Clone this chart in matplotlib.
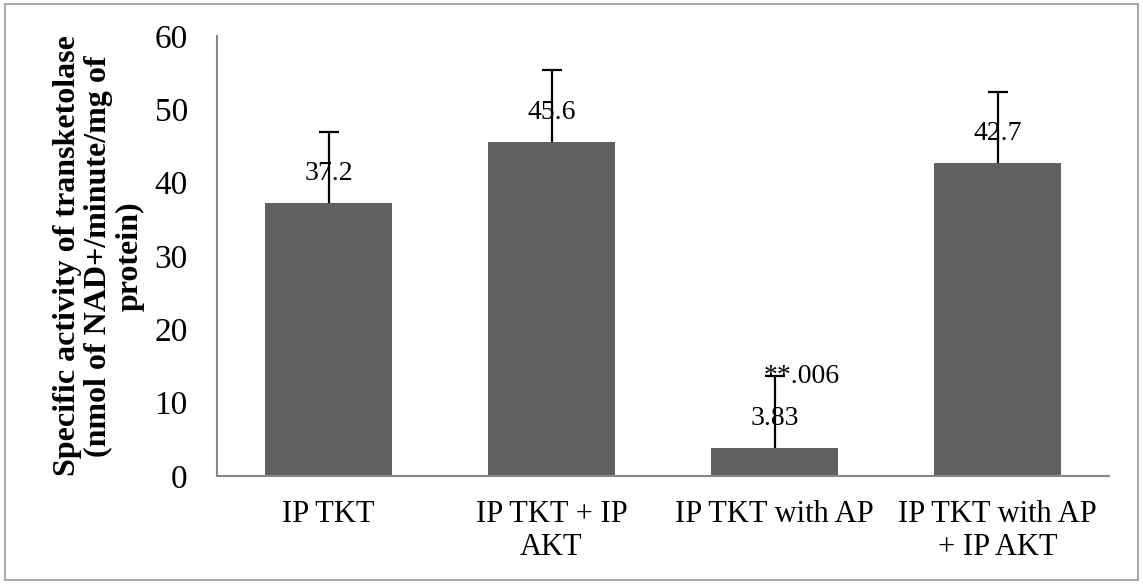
import numpy as np
import matplotlib.pyplot as plt
from matplotlib.patches import Rectangle

plt.rcParams['font.family'] = ['Liberation Serif', 'DejaVu Serif']

# Transketolase activity per condition
groups = ["IP TKT", "IP TKT + IP\nAKT", "IP TKT with AP", "IP TKT with AP\n+ IP AKT"]
activity = [37.2, 45.6, 3.83, 42.7]
errors = [9.7, 9.8, 9.8, 9.7]
value_labels = ["37.2", "45.6", "3.83", "42.7"]
pvalue_note = "**.006"

fig = plt.figure(figsize=(11.43, 5.84), dpi=100)
ax = fig.add_axes([217 / 1143, 1 - 476 / 584, 892 / 1143, 440 / 584])

x = np.arange(len(groups))
ax.bar(x, activity, width=0.57, color="#606060")
eb = ax.errorbar(x, activity, yerr=[np.zeros(len(errors)), errors], fmt="none",
                 ecolor="black", elinewidth=1.6, capsize=7, capthick=1.6)
# only the upper caps are shown
eb[1][0].set_visible(False)

for xi, val, lab in zip(x, activity, value_labels):
    ax.text(xi, val + 2.3, lab, ha="center", va="bottom", fontsize=20)
ax.text(x[2] + 0.12, activity[2] + errors[2] - 1.7, pvalue_note,
        ha="center", va="bottom", fontsize=20)

ax.set_xlim(-0.5, len(groups) - 0.5)
ax.set_ylim(0, 60)
ax.set_yticks(range(0, 61, 10))
ax.set_xticks(x)
ax.set_xticklabels(groups, fontsize=22, linespacing=1.2)
ax.tick_params(axis="y", labelsize=24, length=0, pad=21)
ax.tick_params(axis="x", length=0, pad=17)
for side in ["top", "right"]:
    ax.spines[side].set_visible(False)
for side in ["left", "bottom"]:
    ax.spines[side].set_color("#888888")
    ax.spines[side].set_linewidth(1.5)

ax.set_ylabel("Specific activity of transketolase\n(nmol of NAD+/minute/mg of\nprotein)",
              fontsize=23, fontweight="bold", linespacing=1.1, labelpad=7)

# thin frame round the whole figure
fig.patches.append(Rectangle((5 / 1143, 4 / 584), 1133 / 1143, 576 / 584,
                             transform=fig.transFigure, fill=False,
                             edgecolor="#999999", linewidth=1.2))

fig.savefig("out.png", dpi=100)
